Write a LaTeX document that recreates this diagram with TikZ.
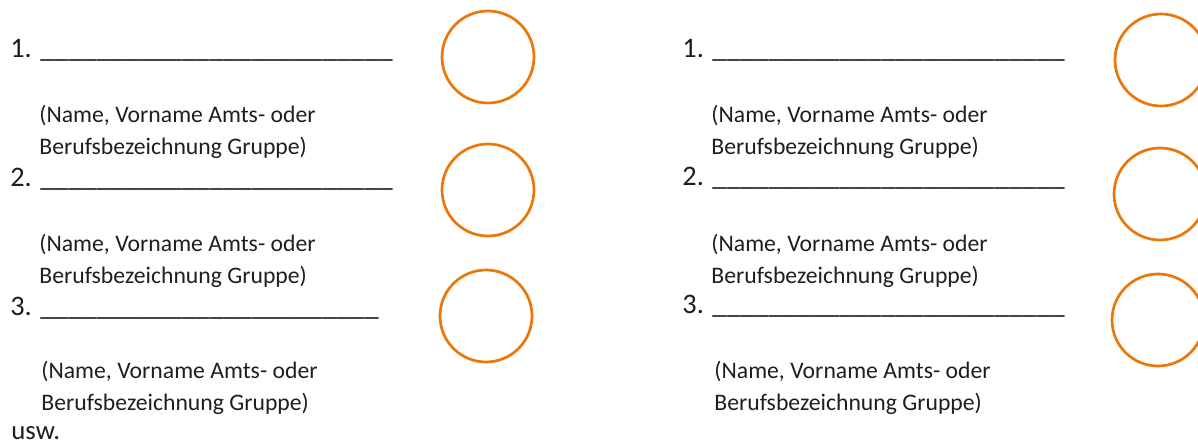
\documentclass[tikz,border=0pt]{standalone}
\usepackage{fontspec}
\setmainfont{Carlito}
\usepackage{xcolor}
\usepackage{tikz}
\usetikzlibrary{positioning,calc}

\definecolor{ink}{RGB}{30,30,30}
\definecolor{stamporange}{RGB}{237,118,9}

\newcommand{\blankfive}{\_\_\_\_\_}
\newcommand{\blanklong}{\blankfive\blankfive\blankfive\blankfive\blankfive}
\newcommand{\blankshort}{\blankfive\blankfive\blankfive\blankfive\_\_\_\_}

\tikzset{
  entry/.style={anchor=base west, inner sep=0pt, text=ink, font=\fontsize{14.15}{17}\selectfont},
  hint/.style={anchor=base west, inner sep=0pt, text=ink, font=\fontsize{11.85}{14}\selectfont},
  stamp/.style={draw=stamporange, line width=1.35pt}
}

\begin{document}
\begin{tikzpicture}[x=0.5pt,y=-0.5pt]
    \clip (0,0) rectangle (1198,443);

    % Left column
    \node[entry] (l1) at (10,58) {1. \blanklong};
    \node[hint] (l1a) at (39,123) {(Name, Vorname Amts- oder};
    \node[hint] (l1b) at (39,155) {Berufsbezeichnung Gruppe)};
    \node[entry] (l2) at (10,187) {2. \blanklong};
    \node[hint] (l2a) at (39,251) {(Name, Vorname Amts- oder};
    \node[hint] (l2b) at (39,283) {Berufsbezeichnung Gruppe)};
    \node[entry] (l3) at (10,315) {3. \blankshort};
    \node[hint] (l3a) at (41,378) {(Name, Vorname Amts- oder};
    \node[hint] (l3b) at (41,410) {Berufsbezeichnung Gruppe)};
    \node[entry, font=\fontsize{13.4}{16}\selectfont] (usw) at (11,439) {usw.};

    % Right column
    \node[entry] (r1) at (682,58) {1. \blanklong};
    \node[hint] (r1a) at (711,123) {(Name, Vorname Amts- oder};
    \node[hint] (r1b) at (711,155) {Berufsbezeichnung Gruppe)};
    \node[entry] (r2) at (682,186) {2. \blanklong};
    \node[hint] (r2a) at (711,251) {(Name, Vorname Amts- oder};
    \node[hint] (r2b) at (711,283) {Berufsbezeichnung Gruppe)};
    \node[entry] (r3) at (682,313) {3. \blanklong};
    \node[hint] (r3a) at (714,378) {(Name, Vorname Amts- oder};
    \node[hint] (r3b) at (714,410) {Berufsbezeichnung Gruppe)};

    % Stamp circles
    \draw[stamp] (488,57) circle[radius=23pt];
    \draw[stamp] (488,190) circle[radius=23pt];
    \draw[stamp] (486,316) circle[radius=23pt];
    \draw[stamp] (1161,60) circle[radius=23pt];
    \draw[stamp] (1160,194) circle[radius=23pt];
    \draw[stamp] (1158,320) circle[radius=23pt];
\end{tikzpicture}
\end{document}
